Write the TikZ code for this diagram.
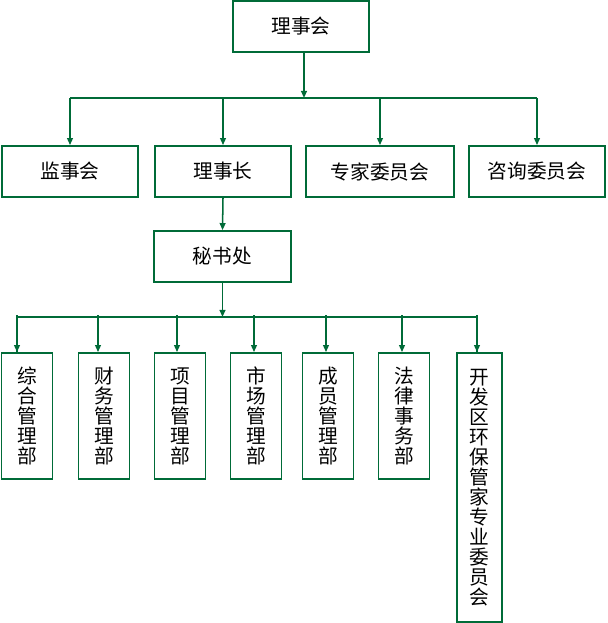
\documentclass[tikz,border=0pt]{standalone}
\usepackage{fontspec}
\newfontfamily\cjk{Noto Sans CJK SC}
\usetikzlibrary{arrows.meta,calc}
\definecolor{orggreen}{RGB}{0,107,56}
\tikzset{
  box/.style={draw=orggreen,line width=1.6pt,inner sep=0pt,align=center,
    font=\cjk\fontsize{16.8}{17.1}\selectfont},
  link/.style={draw=orggreen,line width=1.3pt,-{Triangle[length=6pt,width=5pt]}},
  bus/.style={draw=orggreen,line width=1.7pt}
}
\begin{document}
\begin{tikzpicture}[x=0.03cm,y=-0.03cm]
\useasboundingbox (0,0) rectangle (607,623);
\node[box,minimum width=4.08cm,minimum height=1.53cm] (lsh) at (301,26.5) {理事会};
\node[box,minimum width=4.08cm,minimum height=1.53cm] (jsh) at (70,171.5) {监事会};
\node[box,minimum width=4.08cm,minimum height=1.53cm] (lsz) at (223,171.5) {理事长};
\node[box,minimum width=4.44cm,minimum height=1.53cm] (zjw) at (380,171.5) {专家委员会};
\node[box,minimum width=4.08cm,minimum height=1.53cm] (zxw) at (537,171.5) {咨询委员会};
\node[box,minimum width=4.11cm,minimum height=1.53cm] (msc) at (222.5,256.5) {秘书处};
\node[box,minimum width=1.53cm,minimum height=3.78cm] (zhb) at (27,416) {综\\合\\管\\理\\部};
\node[box,minimum width=1.53cm,minimum height=3.78cm] (cwb) at (104,416) {财\\务\\管\\理\\部};
\node[box,minimum width=1.53cm,minimum height=3.78cm] (xmb) at (180,416) {项\\目\\管\\理\\部};
\node[box,minimum width=1.53cm,minimum height=3.78cm] (scb) at (256,416) {市\\场\\管\\理\\部};
\node[box,minimum width=1.53cm,minimum height=3.78cm] (cyb) at (328,416) {成\\员\\管\\理\\部};
\node[box,minimum width=1.53cm,minimum height=3.78cm] (flb) at (404,416) {法\\律\\事\\务\\部};
\node[box,minimum width=1.35cm,minimum height=8.07cm] (kfq) at (479.5,487.5)
  {开\\发\\区\\环\\保\\管\\家\\专\\业\\委\\员\\会};
\coordinate (top) at ($(lsh.south)+(3,0)$);
\coordinate (j1) at ($(top)+(0,45)$);
\draw[link] (top) -- (j1);
\draw[bus] (jsh.north |- j1) -- (zxw.north |- j1);
\foreach \n in {jsh,lsz,zjw,zxw}
  \draw[link] (\n.north |- j1) -- (\n.north);
\draw[link] (lsz.south) -- (msc.north);
\coordinate (j2) at ($(msc.south)+(0,34)$);
\draw[link] (msc.south) -- (j2);
\draw[bus] ($(zhb.north)+(-10,0)$) |- (j2) -| ($(kfq.north)+(-2.5,0)$);
\foreach \n/\dx in {zhb/-10,cwb/-6,xmb/-3,scb/-2,cyb/-2,flb/-2,kfq/-2.5}
  \draw[link] ($(\n.north)+(\dx,0)$) ++(0,-37) -- ($(\n.north)+(\dx,0)$);
\end{tikzpicture}
\end{document}
